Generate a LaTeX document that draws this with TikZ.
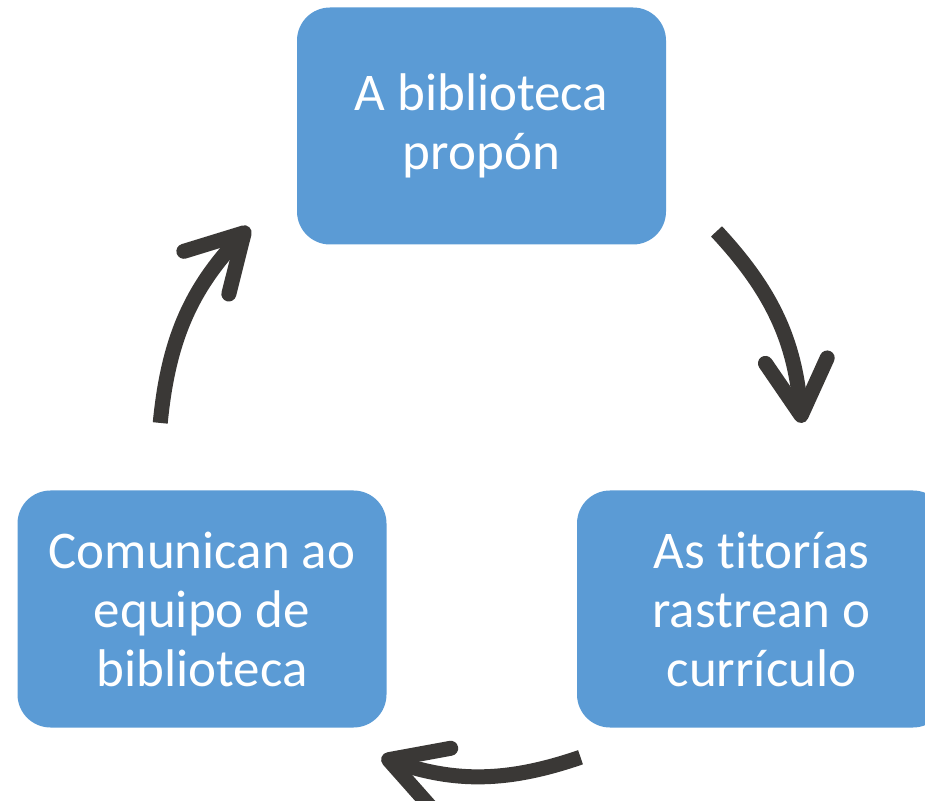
\documentclass[tikz,border=0pt]{standalone}
\usepackage{fontspec}
\setmainfont{Carlito}[Ligatures=NoCommon]
\usetikzlibrary{arrows.meta}
\definecolor{boxblue}{HTML}{5B9BD5}
\definecolor{arrowgray}{HTML}{3A3836}
\begin{document}
\begin{tikzpicture}[x=1pt, y=1pt]
			\tikzstyle{stage} = [rectangle, rounded corners=33pt, minimum width=369pt, minimum height=237pt, inner sep=0pt, fill=boxblue, text=white, align=center, font=\fontsize{53}{59}\selectfont]
			\tikzstyle{cyc}   = [draw=arrowgray, line width=15pt, -{Straight Barb[length=55pt, width=62pt, round]}]

			\useasboundingbox (0,0) rectangle (925,800);
			\clip (0,0) rectangle (925,800);

			\node[stage] (propon) at (481.5, 674) {A biblioteca\\propón};
			\node[stage] (titorias) at (761.5, 191) {As t\kern0pt itorías\\rastrean o\\currículo};
			\node[stage] (comunican) at (202, 191) {Comunican ao\\equipo de\\biblioteca};

			% free ends on the circle round (481,349)
			\foreach \name/\ang in {s1/43, e1/5, s2/-72, e2/-108, s3/175, e3/136}
				\coordinate (\name) at ([shift={(481,349)}]\ang:322);

			\foreach \from/\to in {s1/e1, s2/e2, s3/e3}
				\path[cyc] (\from) to[bend left=19] (\to);

		\end{tikzpicture}
\end{document}
